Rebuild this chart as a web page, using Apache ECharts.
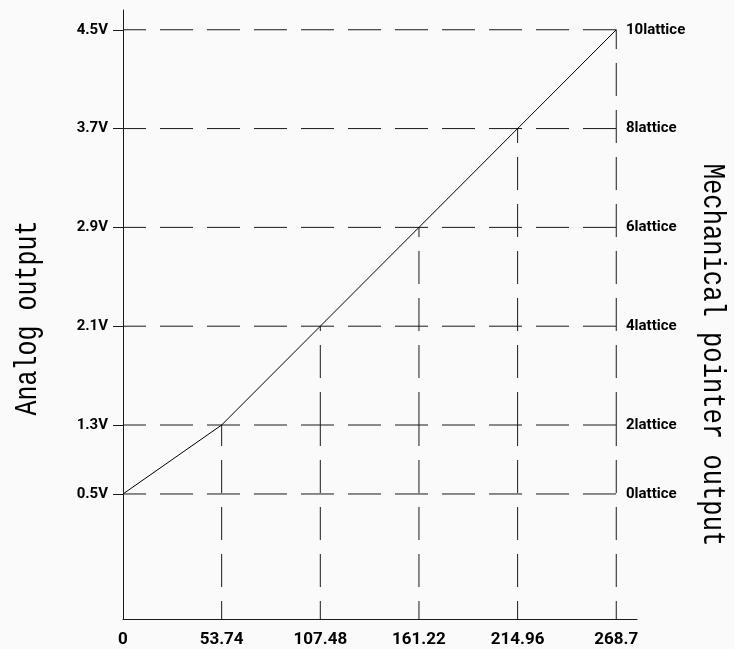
<!DOCTYPE html>
<html><head><meta charset="utf-8">
<script src="https://cdn.jsdelivr.net/npm/echarts@6/dist/echarts.min.js"></script>
<style>html,body{margin:0;padding:0;background:#fafafa}#c{width:734px;height:649px}</style>
</head><body><div id="c"></div>
<script>
// ---- data ----
const xValues = [0, 53.74, 107.48, 161.22, 214.96, 268.7];
const volts = [0.5, 1.3, 2.1, 2.9, 3.7, 4.5];
const lattice = [0, 2, 4, 6, 8, 10];
const xLabels = ['0', '53.74', '107.48', '161.22', '214.96', '268.7'];
const voltLabels = ['0.5V', '1.3V', '2.1V', '2.9V', '3.7V', '4.5V'];
const latticeLabels = ['0lattice', '2lattice', '4lattice', '6lattice', '8lattice', '10lattice'];
const leftTitle = 'Analog output';
const rightTitle = 'Mechanical pointer output';

// ---- layout (axis extents) ----
const splitV = volts[1];          // boundary between the two drawn bands
const xMax = 280;
const topMax = 4.66;
const botMin = -0.95;
const toLat = v => (v - 0.5) / 0.4;

const C = '#1a1a1a';
const LBL = "'Liberation Sans Narrow','Roboto',sans-serif";
const DASH = [33, 14];

const lookup = (vals, labels) => v => {
  for (let i = 0; i < vals.length; i++) if (Math.abs(vals[i] - v) < 1e-6) return labels[i];
  return '';
};

const topV = volts.filter(v => v >= splitV - 1e-9);
const botV = volts.filter(v => v < splitV - 1e-9);
const topL = topV.map(toLat);
const botL = botV.map(toLat);

const series = [];
// horizontal dashed guides
volts.forEach(v => {
  const inTop = v >= splitV - 1e-9;
  series.push({
    type: 'line', xAxisIndex: inTop ? 0 : 1, yAxisIndex: inTop ? 0 : 2,
    data: [[xValues[0], v], [xValues[xValues.length - 1], v]],
    symbol: 'none', silent: true, clip: false,
    lineStyle: { color: C, width: 1, type: DASH, dashOffset: 10 }
  });
});
// vertical dashed guides
xValues.forEach((x, i) => {
  if (i === 0) return;
  const v = volts[i];
  series.push({
    type: 'line', xAxisIndex: 1, yAxisIndex: 2,
    data: [[x, botMin], [x, Math.min(v, splitV)]],
    symbol: 'none', silent: true, clip: false,
    lineStyle: { color: C, width: 1, type: DASH, dashOffset: 15 }
  });
  if (v > splitV + 1e-9) {
    series.push({
      type: 'line', xAxisIndex: 0, yAxisIndex: 0,
      data: [[x, splitV], [x, v]],
      symbol: 'none', silent: true, clip: false,
      lineStyle: { color: C, width: 1, type: DASH, dashOffset: 0 }
    });
  }
});
// main line
const ptsTop = [], ptsBot = [];
xValues.forEach((x, i) => {
  if (volts[i] >= splitV - 1e-9) ptsTop.push([x, volts[i]]);
  if (volts[i] <= splitV + 1e-9) ptsBot.push([x, volts[i]]);
});
series.push({ type: 'line', xAxisIndex: 0, yAxisIndex: 0, data: ptsTop, symbol: 'none', clip: false,
  lineStyle: { color: '#000', width: 1 } });
series.push({ type: 'line', xAxisIndex: 1, yAxisIndex: 2, data: ptsBot, symbol: 'none', clip: false,
  lineStyle: { color: '#000', width: 1 } });

const chart = echarts.init(document.getElementById('c'), null, { renderer: 'canvas' });
chart.setOption({
  backgroundColor: '#fafafa',
  animation: false,
  grid: [
    { left: 123, right: 97, top: 10, bottom: 224 },
    { left: 123, right: 97, top: 425, bottom: 30 }
  ],
  xAxis: [
    { type: 'value', gridIndex: 0, min: 0, max: xMax, show: false },
    { type: 'value', gridIndex: 1, min: 0, max: xMax,
      axisLine: { show: true, onZero: false, lineStyle: { color: C, width: 1 } },
      axisTick: { show: false, customValues: xValues },
      splitLine: { show: false },
      axisLabel: { customValues: xValues, formatter: lookup(xValues, xLabels), margin: 12,
        color: '#000', fontFamily: LBL, fontWeight: 'bold', fontSize: 17 } }
  ],
  yAxis: [
    { type: 'value', gridIndex: 0, position: 'left', min: splitV, max: topMax,
      axisLine: { show: true, onZero: false, lineStyle: { color: C, width: 1 } },
      axisTick: { show: true, length: 10, customValues: topV, lineStyle: { color: C } },
      splitLine: { show: false },
      axisLabel: { customValues: topV, formatter: lookup(volts, voltLabels), margin: 15,
        color: '#000', fontFamily: LBL, fontWeight: 'bold', fontSize: 15 } },
    { type: 'value', gridIndex: 0, position: 'right', min: toLat(splitV), max: toLat(topMax), offset: -11,
      axisLine: { show: false }, axisTick: { show: false, customValues: topL }, splitLine: { show: false },
      axisLabel: { customValues: topL, formatter: lookup(lattice, latticeLabels), margin: 0,
        color: '#000', fontFamily: LBL, fontWeight: 'bold', fontSize: 15 } },
    { type: 'value', gridIndex: 1, position: 'left', min: botMin, max: splitV,
      axisLine: { show: true, onZero: false, lineStyle: { color: C, width: 1 } },
      axisTick: { show: true, length: 10, customValues: botV, lineStyle: { color: C } },
      splitLine: { show: false },
      axisLabel: { customValues: botV, formatter: lookup(volts, voltLabels), margin: 15,
        color: '#000', fontFamily: LBL, fontWeight: 'bold', fontSize: 15 } },
    { type: 'value', gridIndex: 1, position: 'right', min: toLat(botMin), max: toLat(splitV), offset: -11,
      axisLine: { show: false }, axisTick: { show: false, customValues: botL }, splitLine: { show: false },
      axisLabel: { customValues: botL, formatter: lookup(lattice, latticeLabels), margin: 0,
        color: '#000', fontFamily: LBL, fontWeight: 'bold', fontSize: 15 } }
  ],
  graphic: [
    { type: 'text', x: 28, y: 318, rotation: Math.PI / 2, scaleX: 1, scaleY: 1.25,
      style: { text: leftTitle, font: "25px 'Liberation Mono', monospace", fill: '#000',
        textAlign: 'center', textVerticalAlign: 'middle' } },
    { type: 'text', x: 712, y: 355, rotation: -Math.PI / 2, scaleX: 1, scaleY: 1.25,
      style: { text: rightTitle, font: "25.5px 'Liberation Mono', monospace", fill: '#000',
        textAlign: 'center', textVerticalAlign: 'middle' } }
  ],
  series: series
});
</script></body></html>
